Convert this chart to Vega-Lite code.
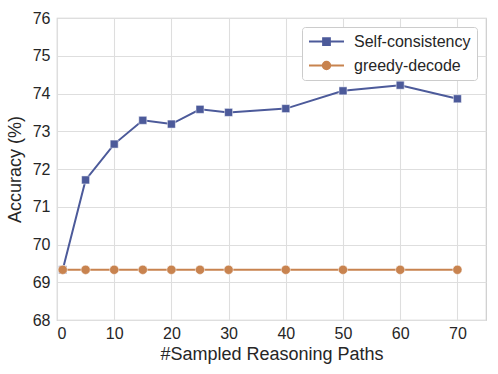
{
  "$schema": "https://vega.github.io/schema/vega-lite/v6.json",
  "width": 429,
  "height": 302,
  "autosize": {"type": "none"},
  "padding": {"left": 57, "top": 18, "right": 12, "bottom": 54},
  "background": "white",
  "config": {
    "font": "Liberation Sans",
    "view": {"stroke": "#cccccc", "strokeWidth": 1.2},
    "axis": {
      "labelFont": "Liberation Sans",
      "titleFont": "Liberation Sans",
      "labelFontSize": 16,
      "titleFontSize": 18,
      "titleFontWeight": "normal",
      "labelColor": "#262626",
      "titleColor": "#262626",
      "domain": false,
      "ticks": false,
      "gridColor": "#dedede",
      "gridWidth": 1.1
    }
  },
  "data": {
    "values": [
      {"paths": 1, "accuracy": 69.33, "method": "Self-consistency"},
      {"paths": 5, "accuracy": 71.71, "method": "Self-consistency"},
      {"paths": 10, "accuracy": 72.66, "method": "Self-consistency"},
      {"paths": 15, "accuracy": 73.29, "method": "Self-consistency"},
      {"paths": 20, "accuracy": 73.19, "method": "Self-consistency"},
      {"paths": 25, "accuracy": 73.58, "method": "Self-consistency"},
      {"paths": 30, "accuracy": 73.5, "method": "Self-consistency"},
      {"paths": 40, "accuracy": 73.6, "method": "Self-consistency"},
      {"paths": 50, "accuracy": 74.07, "method": "Self-consistency"},
      {"paths": 60, "accuracy": 74.22, "method": "Self-consistency"},
      {"paths": 70, "accuracy": 73.86, "method": "Self-consistency"},
      {"paths": 1, "accuracy": 69.33, "method": "greedy-decode"},
      {"paths": 5, "accuracy": 69.33, "method": "greedy-decode"},
      {"paths": 10, "accuracy": 69.33, "method": "greedy-decode"},
      {"paths": 15, "accuracy": 69.33, "method": "greedy-decode"},
      {"paths": 20, "accuracy": 69.33, "method": "greedy-decode"},
      {"paths": 25, "accuracy": 69.33, "method": "greedy-decode"},
      {"paths": 30, "accuracy": 69.33, "method": "greedy-decode"},
      {"paths": 40, "accuracy": 69.33, "method": "greedy-decode"},
      {"paths": 50, "accuracy": 69.33, "method": "greedy-decode"},
      {"paths": 60, "accuracy": 69.33, "method": "greedy-decode"},
      {"paths": 70, "accuracy": 69.33, "method": "greedy-decode"}
    ]
  },
  "encoding": {
    "x": {
      "field": "paths",
      "type": "quantitative",
      "scale": {"domain": [0, 75], "nice": false, "zero": false},
      "axis": {"values": [0, 10, 20, 30, 40, 50, 60, 70], "title": "#Sampled Reasoning Paths", "labelPadding": 5, "titlePadding": 4}
    },
    "y": {
      "field": "accuracy",
      "type": "quantitative",
      "scale": {"domain": [68, 76], "nice": false, "zero": false},
      "axis": {"values": [68, 69, 70, 71, 72, 73, 74, 75, 76], "title": "Accuracy (%)", "labelPadding": 7, "titlePadding": 8}
    },
    "color": {
      "field": "method",
      "type": "nominal",
      "scale": {"domain": ["Self-consistency", "greedy-decode"], "range": ["#4C5A9A", "#C8834F"]},
      "legend": {
        "title": null,
        "orient": "top-right",
        "offset": 9,
        "padding": 6,
        "fillColor": "white",
        "strokeColor": "#cccccc",
        "cornerRadius": 3,
        "labelFontSize": 16,
        "labelFont": "Liberation Sans",
        "labelColor": "#262626",
        "symbolSize": 225,
        "symbolType": "M-1,0H3.667",
        "rowPadding": 7,
        "labelOffset": 29,
        "symbolOffset": 0,
        "encode": {
          "symbols": {
            "update": {
              "shape": {"signal": "datum.value === 'Self-consistency' ? 'M-1,0H3.667M0.883,-0.45H1.783V0.45H0.883Z' : 'M-1,0H3.667M1.833,0A0.5,0.5 0 1,1 0.833,0A0.5,0.5 0 1,1 1.833,0Z'"},
              "strokeWidth": {"value": 2},
              "fill": {"scale": "color", "field": "value"},
              "stroke": {"scale": "color", "field": "value"},
              "opacity": {"value": 1},
              "fillOpacity": {"value": 1}
            }
          }
        }
      }
    }
  },
  "layer": [
    {
      "mark": {"type": "line", "strokeWidth": 2}
    },
    {
      "transform": [{"filter": "datum.method === 'Self-consistency'"}],
      "mark": {"type": "point", "filled": true, "opacity": 1, "shape": "square", "size": 64, "stroke": "white", "strokeWidth": 0.5}
    },
    {
      "transform": [{"filter": "datum.method === 'greedy-decode'"}],
      "mark": {"type": "point", "filled": true, "opacity": 1, "shape": "circle", "size": 85, "stroke": "white", "strokeWidth": 0.5}
    }
  ]
}
